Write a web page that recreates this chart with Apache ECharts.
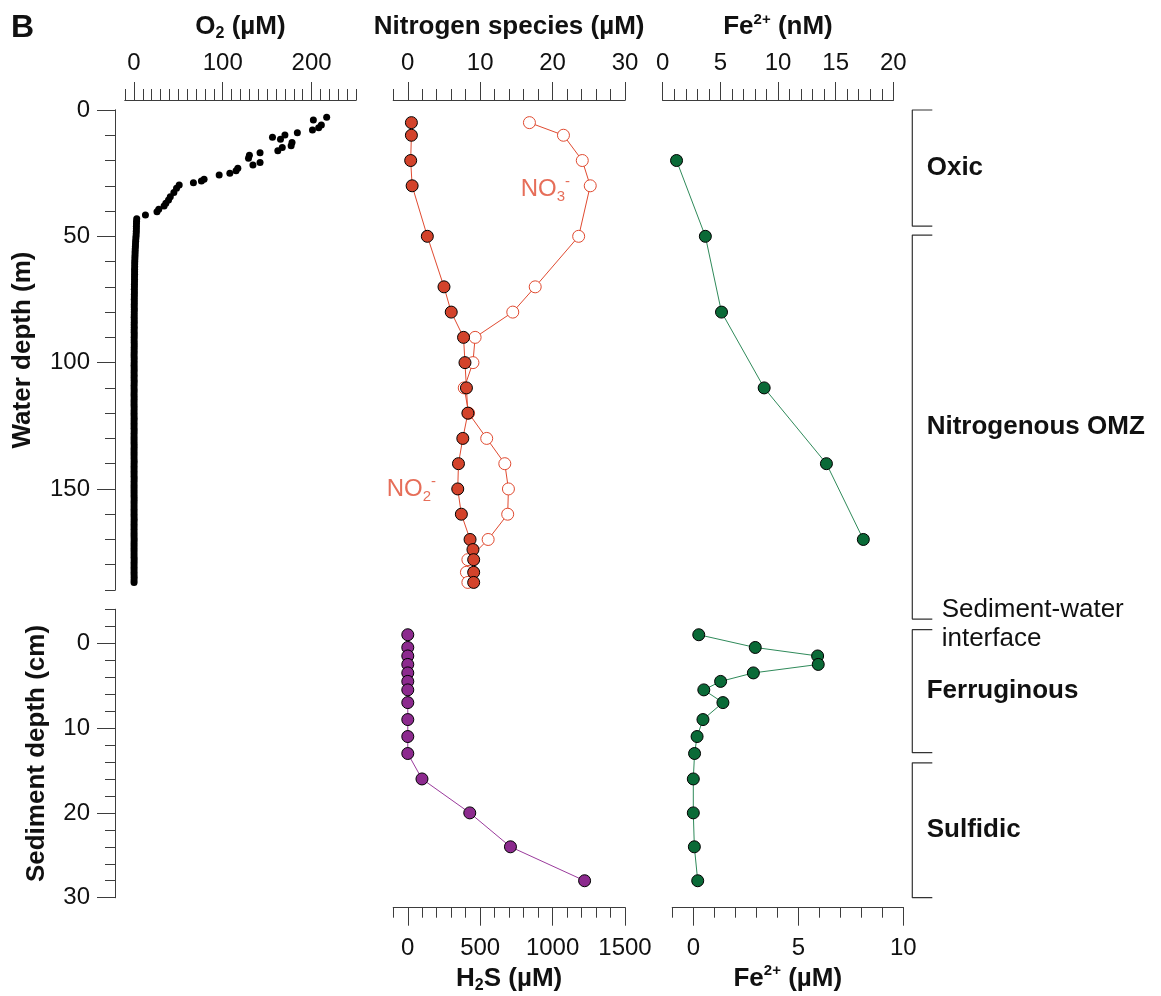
<!DOCTYPE html>
<html>
<head>
<meta charset="utf-8">
<script src="https://cdn.jsdelivr.net/npm/echarts@6/dist/echarts.min.js"></script>
<style>
  html, body { margin: 0; padding: 0; background: #fff; }
  #chart { width: 1161px; height: 996px; }
</style>
</head>
<body>
<div id="chart"></div>
<script>
// ---------- data: [concentration, depth] ----------
// O2 (µM) vs water depth (m), oxycline part
const o2Upper = [
  [217, 2.9], [202, 4], [211, 5.9], [208, 7], [201, 7.9], [184, 9], [170, 9.9],
  [156, 10.8], [165, 11.6], [178, 12.9], [177, 14.2], [167, 14.8], [162, 16.1],
  [142, 16.9], [130, 17.9], [129, 19.1], [142, 20.8], [134, 21.8], [117, 23.1],
  [115, 24], [108, 25], [96, 25.7], [79, 27.4], [76, 28.1], [67, 28.8], [51, 29.7],
  [48, 31], [45, 32.7], [41, 34.3], [39, 35.6], [36, 36.9], [34, 38], [28, 39.3],
  [26, 40.3], [13, 41.6]
];
// O2 (µM) below the oxycline, 1 m resolution
const o2Deep = [
  [3.2, 43], [3.0, 44], [2.9, 45], [2.8, 46], [2.8, 47], [2.7, 48], [2.6, 49], [2.4, 50], [2.2, 51], [2.0, 52],
  [1.8, 53], [1.7, 54], [1.5, 55], [1.4, 56], [1.3, 57], [1.2, 58], [1.1, 59], [1.0, 60], [0.9, 61], [0.9, 62],
  [0.8, 63], [0.8, 64], [0.8, 65], [0.7, 66], [0.7, 67], [0.7, 68], [0.6, 69], [0.6, 70], [0.5, 71], [0.6, 72],
  [0.5, 73], [0.5, 74], [0.4, 75], [0.5, 76], [0.4, 77], [0.4, 78], [0.5, 79], [0.4, 80], [0.4, 81], [0.3, 82],
  [0.4, 83], [0.4, 84], [0.3, 85], [0.4, 86], [0.3, 87], [0.3, 88], [0.4, 89], [0.3, 90], [0.3, 91], [0.3, 92],
  [0.4, 93], [0.3, 94], [0.3, 95], [0.3, 96], [0.2, 97], [0.3, 98], [0.3, 99], [0.3, 100], [0.2, 101], [0.3, 102],
  [0.3, 103], [0.2, 104], [0.3, 105], [0.2, 106], [0.3, 107], [0.3, 108], [0.2, 109], [0.2, 110], [0.3, 111], [0.2, 112],
  [0.2, 113], [0.3, 114], [0.2, 115], [0.2, 116], [0.2, 117], [0.3, 118], [0.2, 119], [0.2, 120], [0.2, 121], [0.3, 122],
  [0.2, 123], [0.2, 124], [0.2, 125], [0.2, 126], [0.3, 127], [0.2, 128], [0.2, 129], [0.2, 130], [0.2, 131], [0.2, 132],
  [0.3, 133], [0.2, 134], [0.2, 135], [0.2, 136], [0.2, 137], [0.2, 138], [0.3, 139], [0.2, 140], [0.2, 141], [0.2, 142],
  [0.2, 143], [0.2, 144], [0.2, 145], [0.3, 146], [0.2, 147], [0.2, 148], [0.2, 149], [0.2, 150], [0.2, 151], [0.2, 152],
  [0.2, 153], [0.3, 154], [0.2, 155], [0.2, 156], [0.2, 157], [0.2, 158], [0.2, 159], [0.2, 160], [0.2, 161], [0.3, 162],
  [0.2, 163], [0.2, 164], [0.2, 165], [0.2, 166], [0.2, 167], [0.2, 168], [0.2, 169], [0.3, 170], [0.2, 171], [0.2, 172],
  [0.2, 173], [0.2, 174], [0.2, 175], [0.2, 176], [0.2, 177], [0.3, 178], [0.2, 179], [0.2, 180], [0.2, 181], [0.2, 182],
  [0.2, 183], [0.2, 184], [0.3, 185], [0.2, 186], [0.2, 187]
];
// Nitrogen species (µM) vs water depth (m)
const nitrate = [
  [16.8, 5], [21.5, 10], [24.1, 20], [25.2, 30], [23.6, 50], [17.6, 70], [14.5, 80],
  [9.3, 90], [9.0, 100], [7.8, 110], [8.4, 120], [10.9, 130], [13.4, 140], [13.9, 150],
  [13.8, 160], [11.1, 170], [8.3, 178], [8.1, 183], [8.3, 187]
];
const nitrite = [
  [0.5, 5], [0.5, 10], [0.4, 20], [0.6, 30], [2.7, 50], [5.0, 70], [6.0, 80],
  [7.7, 90], [7.9, 100], [8.1, 110], [8.3, 120], [7.6, 130], [7.0, 140], [6.9, 150],
  [7.4, 160], [8.6, 170], [9.0, 174], [9.1, 178], [9.1, 183], [9.1, 187]
];
// Fe2+ (nM) vs water depth (m)
const feWater = [[1.2, 20], [3.7, 50], [5.1, 80], [8.8, 110], [14.2, 140], [17.4, 170]];
// H2S (µM) vs sediment depth (cm)
const h2s = [
  [0, -1], [0, 0.5], [0, 1.5], [0, 2.5], [0, 3.5], [0, 4.5], [0, 5.5], [0, 7],
  [0, 9], [0, 11], [0, 13], [98, 16], [428, 20], [709, 24], [1221, 28]
];
// Fe2+ (µM) vs sediment depth (cm)
const feSed = [
  [0.26, -1], [2.95, 0.5], [5.92, 1.5], [5.95, 2.5], [2.86, 3.5], [1.3, 4.5], [0.5, 5.5],
  [1.41, 7], [0.46, 9], [0.18, 11], [0.06, 13], [0, 16], [0, 20], [0.05, 24], [0.21, 28]
];
// redox zones: [top, bottom] depth
const zonesWater = [[0, 46], [49.5, 201.5]];          // m
const zonesSed = [[-1.6, 12.9], [14.1, 30]];          // cm
const zoneNamesWater = ['Oxic', 'Nitrogenous OMZ'];
const zoneNamesSed = ['Ferruginous', 'Sulfidic'];

// labelled tick values
const o2Ticks = [0, 100, 200];
const nTicks = [0, 10, 20, 30];
const feNTicks = [0, 5, 10, 15, 20];
const h2sTicks = [0, 500, 1000, 1500];
const feUTicks = [0, 5, 10];
const waterTicks = [0, 50, 100, 150];
const sedTicks = [0, 10, 20, 30];

// ---------- styling ----------
const FONT = '"Liberation Sans", Arial, Helvetica, sans-serif';
const INK = '#111111';
const AXIS_C = '#3d3d3d';
const RED = '#d3432b';
const RED_LINE = '#e04a30';
const PURPLE = '#8c2a8e';
const PURPLE_LINE = '#9a3a9c';
const GREEN = '#0a6a37';
const GREEN_LINE = '#2f8a5a';

function richTitle() {
  return {
    fontFamily: FONT, fontSize: 26, fontWeight: 'bold', color: INK,
    rich: {
      b: { fontFamily: FONT, fontSize: 26, fontWeight: 'bold', color: INK, lineHeight: 30 },
      sub: { fontFamily: FONT, fontSize: 16, fontWeight: 'bold', color: INK, lineHeight: 20, verticalAlign: 'bottom' },
      sup: { fontFamily: FONT, fontSize: 15, fontWeight: 'bold', color: INK, lineHeight: 22, verticalAlign: 'top' }
    }
  };
}

// axis carrying the short ticks and the axis line
function minorAxis(grid, pos, min, max, step, len, inverse) {
  return {
    type: 'value', gridIndex: grid, position: pos, offset: 10, min: min, max: max, interval: step,
    inverse: !!inverse,
    axisLine: { show: true, onZero: false, lineStyle: { color: AXIS_C, width: 1 } },
    axisTick: { show: true, length: len, lineStyle: { color: AXIS_C, width: 1 } },
    axisLabel: { show: false }, splitLine: { show: false }
  };
}
// axis carrying the long ticks, labels and name
function majorAxis(grid, pos, min, max, ticks, margin, name, nameGap, inverse) {
  return {
    type: 'value', gridIndex: grid, position: pos, offset: 10, min: min, max: max,
    inverse: !!inverse,
    axisLine: { show: true, onZero: false, lineStyle: { color: AXIS_C, width: 1 } },
    axisTick: { show: true, length: 18, customValues: ticks, lineStyle: { color: AXIS_C, width: 1 } },
    axisLabel: {
      show: true, customValues: ticks, margin: margin, fontFamily: FONT, fontSize: 24, color: INK,
      formatter: v => String(v)
    },
    splitLine: { show: false },
    name: name, nameLocation: 'middle', nameGap: nameGap, nameTextStyle: richTitle()
  };
}
function hiddenAxis(grid, min, max, inverse) {
  return { type: 'value', gridIndex: grid, min: min, max: max, inverse: !!inverse, show: false };
}

const grids = [
  { left: 125, top: 110, width: 231, height: 480 },      // 0 O2 / water
  { left: 393.3, top: 110, width: 231.7, height: 480 },  // 1 nitrogen / water
  { left: 662.7, top: 110, width: 230.6, height: 480 },  // 2 Fe nM / water
  { left: 125, top: 609.3, width: 231, height: 288.4 },  // 3 sediment depth axis
  { left: 393.3, top: 609.3, width: 231.7, height: 288.4 }, // 4 H2S / sediment
  { left: 672.3, top: 609.3, width: 231, height: 288.4 },   // 5 Fe µM / sediment
  { left: 912.3, top: 110, width: 240, height: 480 },       // 6 zones / water
  { left: 912.3, top: 609.3, width: 240, height: 288.4 }    // 7 zones / sediment
].map(g => Object.assign({ containLabel: false, outerBoundsMode: 'none' }, g));

const xAxes = [
  minorAxis(0, 'top', -10, 250, 10, 11),                                        // 0
  majorAxis(0, 'top', -10, 250, o2Ticks, 25, '{b|O}{sub|2}{b| (µM)}', 58),     // 1
  minorAxis(1, 'top', -2, 30, 2, 11),                                           // 2
  majorAxis(1, 'top', -2, 30, nTicks, 25, '{b|Nitrogen species (µM)}', 58),    // 3
  minorAxis(2, 'top', 0, 20, 1, 11),                                            // 4
  majorAxis(2, 'top', 0, 20, feNTicks, 25, '{b|Fe}{sup|2+}{b| (nM)}', 58),     // 5
  hiddenAxis(3, -10, 250),                                                      // 6
  minorAxis(4, 'bottom', -100, 1500, 100, 10),                                  // 7
  majorAxis(4, 'bottom', -100, 1500, h2sTicks, 29, '{b|H}{sub|2}{b|S (µM)}', 56), // 8
  minorAxis(5, 'bottom', -1, 10, 1, 10),                                        // 9
  majorAxis(5, 'bottom', -1, 10, feUTicks, 29, '{b|Fe}{sup|2+}{b| (µM)}', 56), // 10
  hiddenAxis(6, 0, 12),                                                         // 11
  hiddenAxis(7, 0, 12)                                                          // 12
];

const yAxes = [
  minorAxis(0, 'left', 0, 190, 10, 10, true),                                        // 0
  majorAxis(0, 'left', 0, 190, waterTicks, 25, '{b|Water depth (m)}', 77, true),     // 1
  minorAxis(3, 'left', -4, 30, 2, 10, true),                                         // 2
  majorAxis(3, 'left', -4, 30, sedTicks, 25, '{b|Sediment depth (cm)}', 63, true),   // 3
  hiddenAxis(1, 0, 190, true),   // 4
  hiddenAxis(2, 0, 190, true),   // 5
  hiddenAxis(4, -4, 30, true),   // 6
  hiddenAxis(5, -4, 30, true),   // 7
  hiddenAxis(6, 0, 190, true),   // 8
  hiddenAxis(7, -4, 30, true)    // 9
];

function profile(data, xi, yi, fill, border, line, z) {
  return {
    type: 'line', xAxisIndex: xi, yAxisIndex: yi, data: data,
    symbol: 'circle', symbolSize: 12, showSymbol: true, showAllSymbol: true,
    lineStyle: { color: line, width: 1 },
    itemStyle: { color: fill, borderColor: border, borderWidth: 1 },
    z: z, silent: true, clip: false
  };
}

function bracketSeries(ranges, xi, yi) {
  return ranges.map(r => ({
    type: 'line', xAxisIndex: xi, yAxisIndex: yi, symbol: 'none', clip: false, silent: true,
    data: [[1, r[0]], [0, r[0]], [0, r[1]], [1, r[1]]],
    lineStyle: { color: '#333', width: 1.2 }
  }));
}

function zoneLabels(ranges, names, xi, yi) {
  return {
    type: 'scatter', xAxisIndex: xi, yAxisIndex: yi, symbolSize: 0, silent: true, clip: false,
    data: ranges.map((r, i) => ({ value: [0.72, (r[0] + r[1]) / 2], name: names[i] })),
    label: {
      show: true, position: 'right', distance: 0, formatter: '{b}', opacity: 1,
      fontFamily: FONT, fontSize: 26, fontWeight: 'bold', color: INK
    }
  };
}

const speciesRich = {
  a: { fontFamily: FONT, fontSize: 24, color: RED_LINE, lineHeight: 30 },
  sub: { fontFamily: FONT, fontSize: 15, color: RED_LINE, lineHeight: 12, verticalAlign: 'bottom' },
  sup: { fontFamily: FONT, fontSize: 15, color: RED_LINE, lineHeight: 22, verticalAlign: 'top' }
};

const series = [
  { type: 'scatter', xAxisIndex: 0, yAxisIndex: 0, data: o2Upper, symbolSize: 7,
    itemStyle: { color: '#000', opacity: 1 }, silent: true },
  { type: 'scatter', xAxisIndex: 0, yAxisIndex: 0, data: o2Deep, symbolSize: 7,
    itemStyle: { color: '#000', opacity: 1 }, silent: true },
  profile(nitrate, 2, 4, '#ffffff', RED_LINE, RED_LINE, 2),
  profile(nitrite, 2, 4, RED, '#000', RED_LINE, 3),
  profile(feWater, 4, 5, GREEN, '#000', GREEN_LINE, 2),
  profile(h2s, 7, 6, PURPLE, '#000', PURPLE_LINE, 2),
  profile(feSed, 9, 7, GREEN, '#000', GREEN_LINE, 2),
  // species names next to the nitrogen profiles
  { type: 'scatter', xAxisIndex: 2, yAxisIndex: 4, symbolSize: 0, silent: true, clip: false,
    data: [{ value: [15.6, 31.5] }],
    label: { show: true, position: 'right', distance: 0, formatter: '{a|NO}{sub|3}{sup|-}', rich: speciesRich } },
  { type: 'scatter', xAxisIndex: 2, yAxisIndex: 4, symbolSize: 0, silent: true, clip: false,
    data: [{ value: [3.9, 150] }],
    label: { show: true, position: 'left', distance: 0, formatter: '{a|NO}{sub|2}{sup|-}', rich: speciesRich } },
  ...bracketSeries(zonesWater, 11, 8),
  ...bracketSeries(zonesSed, 12, 9),
  zoneLabels(zonesWater, zoneNamesWater, 11, 8),
  zoneLabels(zonesSed, zoneNamesSed, 12, 9),
  { type: 'scatter', xAxisIndex: 12, yAxisIndex: 9, symbolSize: 0, silent: true, clip: false,
    data: [{ value: [1.47, -2.2] }],
    label: { show: true, position: 'right', distance: 0, formatter: 'Sediment-water\ninterface', opacity: 1,
      fontFamily: FONT, fontSize: 26, lineHeight: 29, color: INK, align: 'left' } }
];

const chart = echarts.init(document.getElementById('chart'), null, { renderer: 'canvas' });
chart.setOption({
  animation: false,
  backgroundColor: '#ffffff',
  textStyle: { fontFamily: FONT },
  grid: grids,
  xAxis: xAxes,
  yAxis: yAxes,
  series: series,
  graphic: [{
    type: 'text', left: 11, top: 12,
    style: { text: 'B', fontFamily: FONT, fontSize: 32, fontWeight: 'bold', fill: INK }
  }]
});
</script>
</body>
</html>
